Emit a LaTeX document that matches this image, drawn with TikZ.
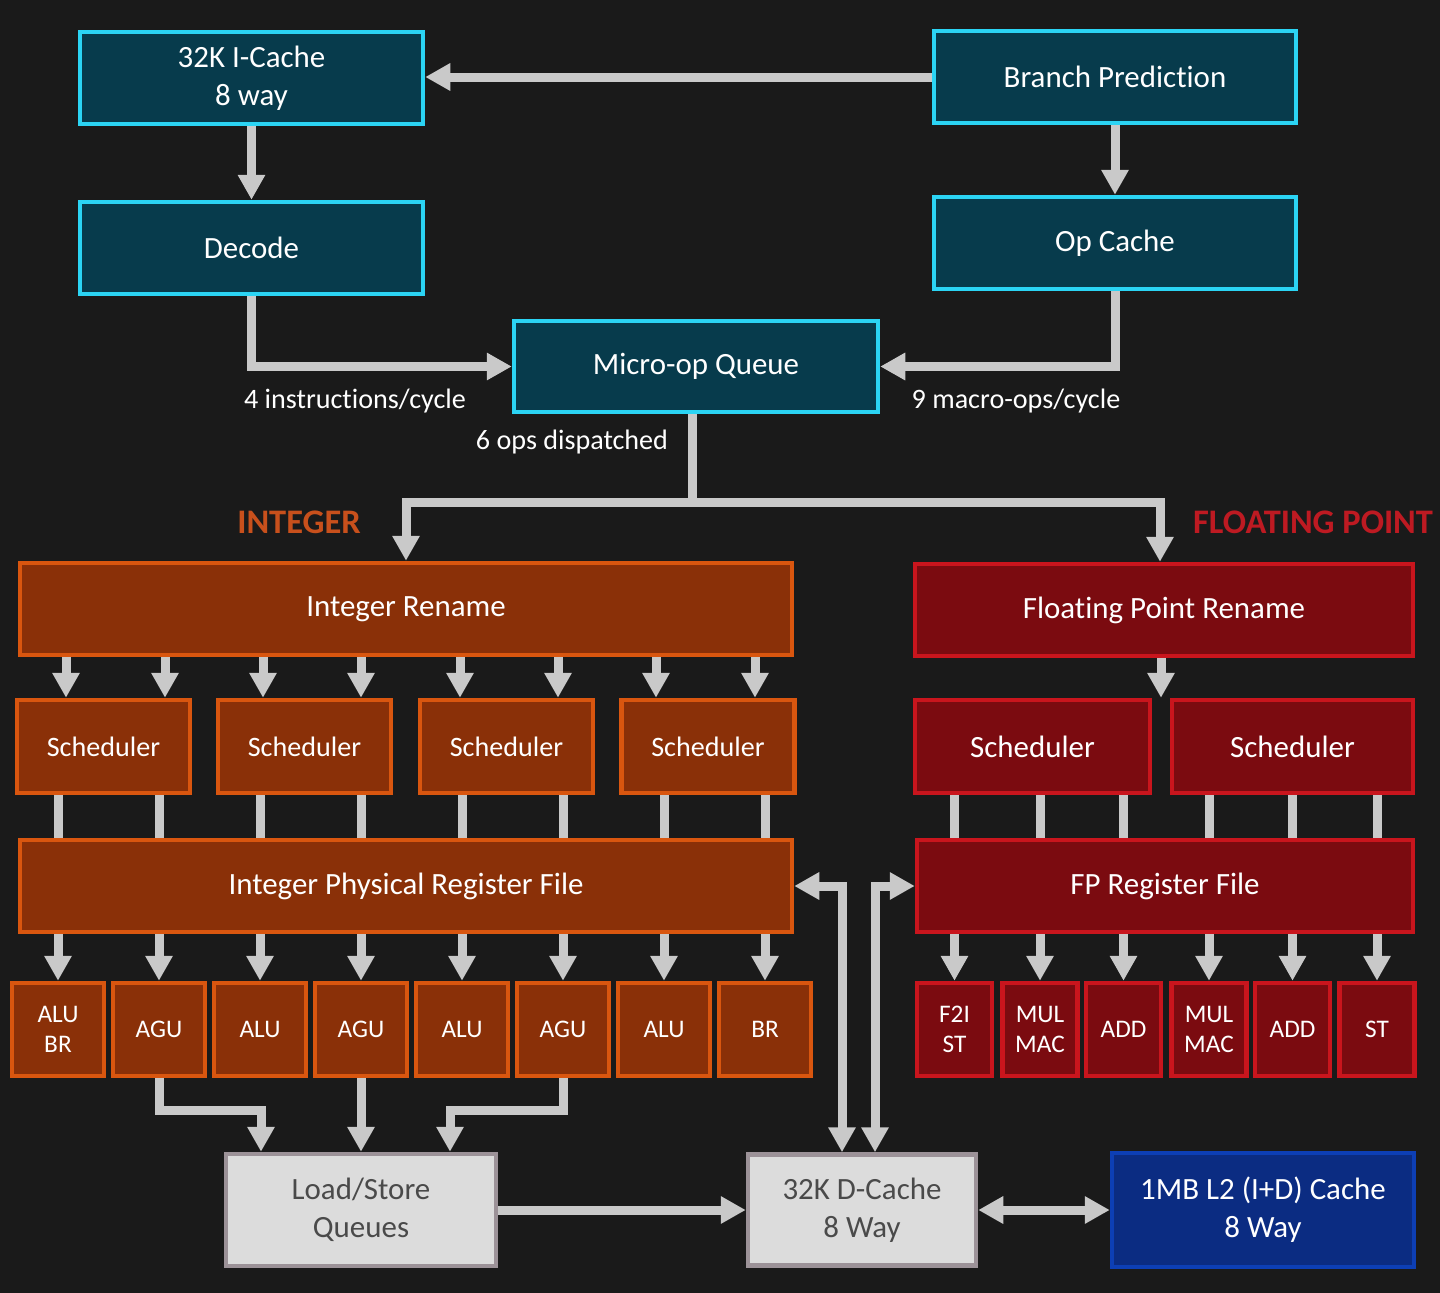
\documentclass[tikz,border=0pt]{standalone}
\usepackage{fontspec}
\setmainfont{Carlito}[Ligatures=NoCommon]
\usetikzlibrary{arrows.meta,positioning,calc}

\definecolor{bgdark}{HTML}{1A1A1A}
\definecolor{fecyan}{HTML}{2BD4F4}
\definecolor{fefill}{HTML}{073B4C}
\definecolor{intfill}{HTML}{8A3008}
\definecolor{intline}{HTML}{D9560F}
\definecolor{fpfill}{HTML}{7B0B10}
\definecolor{fpline}{HTML}{C9151D}
\definecolor{memfill}{HTML}{DCDCDC}
\definecolor{memline}{HTML}{9C9298}
\definecolor{memtext}{HTML}{4A4A4A}
\definecolor{l2fill}{HTML}{0B2C82}
\definecolor{l2line}{HTML}{0D3FB5}
\definecolor{arrgray}{HTML}{C9C9C9}
\definecolor{intlabel}{HTML}{C8501C}
\definecolor{fplabel}{HTML}{BE1A22}

\tikzset{
  fe/.style={draw=fecyan, fill=fefill, line width=0.045cm, text=white, align=center,
    inner sep=0pt, font=\fontsize{8.8}{10.8}\selectfont},
  intbox/.style={fe, draw=intline, fill=intfill},
  fpbox/.style={fe, draw=fpline, fill=fpfill},
  intunit/.style={intbox, minimum width=0.92cm, minimum height=0.93cm, font=\fontsize{7.2}{8.6}\selectfont},
  fpunit/.style={fpbox, minimum width=0.75cm, minimum height=0.93cm, font=\fontsize{7.2}{8.6}\selectfont},
  membox/.style={fe, draw=memline, fill=memfill, text=memtext},
  l2box/.style={fe, draw=l2line, fill=l2fill},
  lbl/.style={text=white, font=\fontsize{8}{9.6}\selectfont},
  grouplbl/.style={font=\fontsize{9.8}{11}\selectfont\bfseries},
  wire/.style={draw=arrgray, line width=0.09cm},
  arr/.style={wire, -{Triangle[width=0.26cm,length=0.25cm]}},
  dblarr/.style={wire, {Triangle[width=0.26cm,length=0.25cm]}-{Triangle[width=0.26cm,length=0.25cm]}},
}

\begin{document}
\begin{tikzpicture}
  \fill[bgdark] (0,0) rectangle (14.4,-12.93);
  \useasboundingbox (0,0) rectangle (14.4,-12.93);

  % front end
  \node[fe, minimum width=3.43cm, minimum height=0.92cm] (icache) at (2.515,-0.78) {32K I-Cache\\8 way};
  \node[fe, minimum width=3.62cm, minimum height=0.92cm] (bp) at (11.15,-0.77) {Branch Prediction};
  \node[fe, minimum width=3.43cm, minimum height=0.92cm] (decode) at (2.515,-2.48) {Decode};
  \node[fe, minimum width=3.62cm, minimum height=0.92cm] (opc) at (11.15,-2.43) {Op Cache};
  \node[fe, minimum width=3.64cm, minimum height=0.91cm] (moq) at (6.96,-3.665) {Micro-op Queue};

  \draw[arr] (bp.west) -- (bp.west -| icache.east);
  \draw[arr] (icache.south) -- (decode.north);
  \draw[arr] (bp.south) -- (opc.north);
  \draw[arr] (decode.south) |- (moq.west);
  \draw[arr] (opc.south) |- (moq.east);

  \node[lbl] (l4) at (3.55,-4.01) {4 instructions/cycle};
  \node[lbl] (l9) at (10.16,-4.01) {9 macro-ops/cycle};
  \node[lbl] (l6) at (5.72,-4.42) {6 ops dispatched};

  % dispatch
  \draw[wire] (6.92,0 |- moq.south) -- (6.92,-5.02) coordinate (split);
  \node[grouplbl, text=intlabel] (intname) at (2.99,-5.22) {INTEGER};
  \node[grouplbl, text=fplabel] (fpname) at (13.13,-5.22) {FLOATING POINT};

  \node[intbox, minimum width=7.72cm, minimum height=0.92cm] (irn) at (4.06,-6.09) {Integer Rename};
  \node[fpbox, minimum width=4.98cm, minimum height=0.92cm] (fprn) at (11.64,-6.10) {Floating Point Rename};

  \draw[arr] (split) -| (irn.north);
  \draw[arr] (split) -| (11.60,0 |- fprn.north);

  % schedulers
  \foreach \n/\x in {is1/1.035,is2/3.045,is3/5.065,is4/7.08}
    \node[intbox, minimum width=1.73cm, minimum height=0.93cm, font=\fontsize{8}{9.6}\selectfont] (\n) at (\x,-7.465) {Scheduler};
  \node[fpbox, minimum width=2.35cm, minimum height=0.93cm] (fs1) at (10.325,-7.465) {Scheduler};
  \node[fpbox, minimum width=2.41cm, minimum height=0.93cm] (fs2) at (12.925,-7.465) {Scheduler};

  \foreach \x/\s in {0.66/is1,1.65/is1,2.63/is2,3.61/is2,4.60/is3,5.58/is3,6.56/is4,7.55/is4}
    \draw[arr] (\x,0 |- irn.south) -- (\x,0 |- \s.north);
  \draw[arr] (11.61,0 |- fprn.south) -- (11.61,0 |- fs1.north);

  % register files
  \node[intbox, minimum width=7.72cm, minimum height=0.92cm] (iprf) at (4.06,-8.86) {Integer Physical Register File};
  \node[fpbox, minimum width=4.96cm, minimum height=0.92cm] (fprf) at (11.65,-8.86) {FP Register File};

  % execution units
  \foreach \n/\x/\t in {u1/0.58/{ALU\\BR},u2/1.59/AGU,u3/2.60/ALU,u4/3.61/AGU,
                        u5/4.62/ALU,u6/5.63/AGU,u7/6.64/ALU,u8/7.65/BR}
    \node[intunit] (\n) at (\x,-10.295) {\t};
  \foreach \n/\x/\t in {f1/9.545/{F2I\\ST},f2/10.40/{MUL\\MAC},f3/11.235/ADD,
                        f4/12.09/{MUL\\MAC},f5/12.925/ADD,f6/13.77/ST}
    \node[fpunit] (\n) at (\x,-10.295) {\t};

  \foreach \u/\s in {u1/is1,u2/is1,u3/is2,u4/is2,u5/is3,u6/is3,u7/is4,u8/is4}{
    \draw[wire] (\u |- \s.south) -- (\u |- iprf.north);
    \draw[arr] (\u |- iprf.south) -- (\u.north);
  }
  \foreach \u/\s in {f1/fs1,f2/fs1,f3/fs1,f4/fs2,f5/fs2,f6/fs2}{
    \draw[wire] (\u |- \s.south) -- (\u |- fprf.north);
    \draw[arr] (\u |- fprf.south) -- (\u.north);
  }

  % memory
  \node[membox, minimum width=2.70cm, minimum height=1.12cm] (lsq) at (3.61,-12.10) {Load/Store\\Queues};
  \node[membox, minimum width=2.28cm, minimum height=1.11cm] (dc) at (8.62,-12.10) {32K D-Cache\\8 Way};
  \node[l2box, minimum width=3.02cm, minimum height=1.14cm] (l2) at (12.63,-12.10) {1MB L2 (I+D) Cache\\8 Way};

  \draw[arr] (u2.south) -- ++(0,-0.32) -| ($(lsq.north)+(-1.0,0)$);
  \draw[arr] (u4.south) -- (lsq.north);
  \draw[arr] (u6.south) -- ++(0,-0.32) -| ($(lsq.north)+(0.89,0)$);

  \draw[arr] (lsq.east) -- (dc.west);
  \draw[dblarr] (dc.east) -- (l2.west);
  \draw[dblarr] (iprf.east) -| ($(dc.north)+(-0.2,0)$);
  \draw[dblarr] (fprf.west) -| ($(dc.north)+(0.13,0)$);
\end{tikzpicture}
\end{document}
